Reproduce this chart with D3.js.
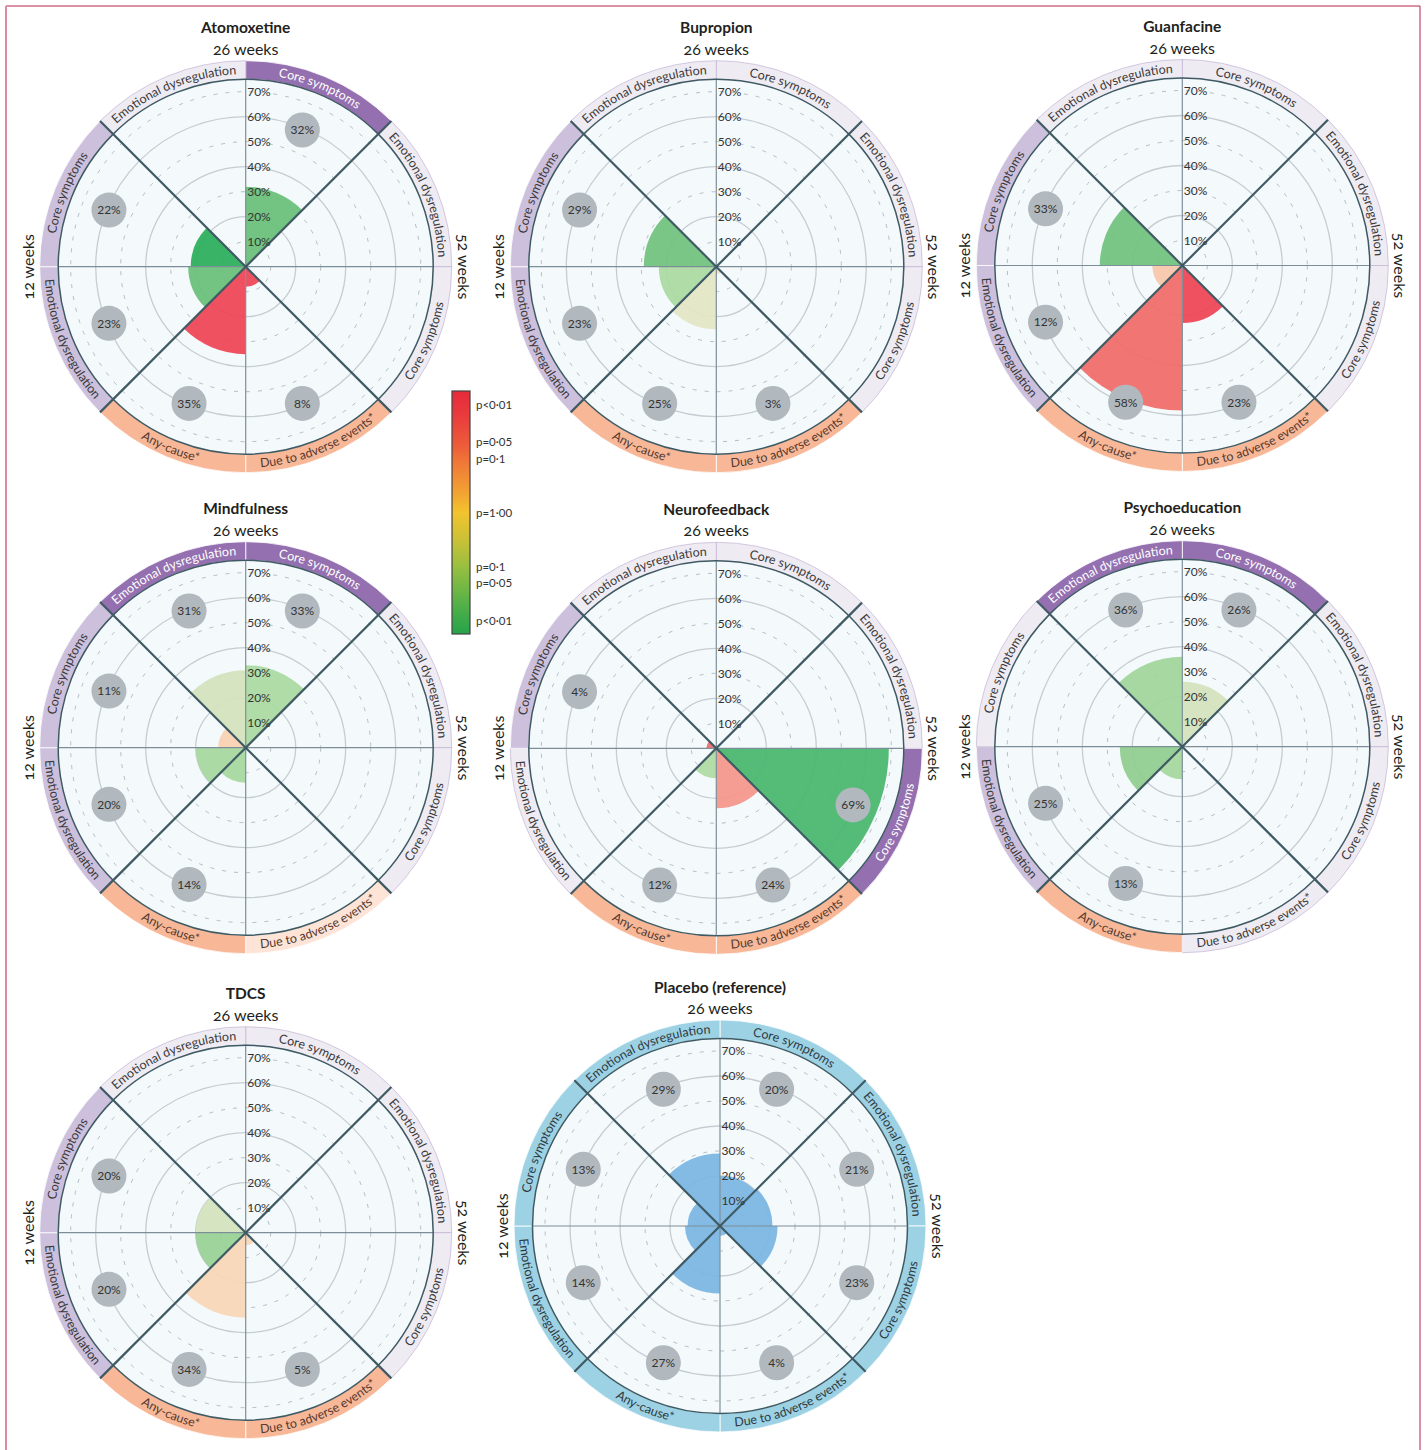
<!DOCTYPE html>
<html>
<head>
<meta charset="utf-8">
<script src="https://cdn.jsdelivr.net/npm/d3@7"></script>
<style>
  body { margin: 0; background: #fff; }
  svg { display: block; font-family: Lato, "Open Sans", sans-serif; }
</style>
</head>
<body>
<svg id="chart" width="1426" height="1450"></svg>
<script>
// Tratamentos (um gráfico radial por tratamento)
const treatments = ["Atomoxetine", "Bupropion", "Guanfacine", "Mindfulness",
                    "Neurofeedback", "Psychoeducation", "TDCS", "Placebo (reference)"];

// Setores no sentido horário a partir das 12h
const outcomeLabels = ["Core symptoms", "Emotional dysregulation", "Core symptoms",
                       "Due to adverse events*", "Any-cause*", "Emotional dysregulation",
                       "Core symptoms", "Emotional dysregulation"];

// Rótulos de tempo: topo, direita, esquerda
const timeLabels = ["26 weeks", "52 weeks", "12 weeks"];

// Marcas dos anéis (%)
const ringTicks = [10, 20, 30, 40, 50, 60, 70];

// Valor de cada setor (%), null = sem estimativa
const values = [
    [32, null, null, 8, 35, 23, 22, null],
    [null, null, null, 3, 25, 23, 29, null],
    [null, null, null, 23, 58, 12, 33, null],
    [33, null, null, null, 14, 20, 11, 31],
    [null, null, 69, 24, 12, null, 4, null],
    [26, null, null, null, 13, 25, null, 36],
    [null, null, null, 5, 34, 20, 20, null],
    [20, 21, 23, 4, 27, 14, 13, 29]
];

// Direção do efeito: -1 favorece o tratamento (verde), 1 favorece o placebo (vermelho)
const directions = [
    [-1, 0, 0, 1, 1, -1, -1, 0],
    [0, 0, 0, 1, -1, -1, -1, 0],
    [0, 0, 0, 1, 1, 1, -1, 0],
    [-1, 0, 0, 0, -1, -1, 1, -1],
    [0, 0, -1, 1, -1, 0, 1, 0],
    [-1, 0, 0, 0, -1, -1, 0, -1],
    [0, 0, 0, 1, 1, -1, -1, 0],
    [0, 0, 0, 0, 0, 0, 0, 0]
];

// Valores de p estimados pela cor
const pValues = [
    [0.015, null, null, 0.004, 0.004, 0.015, 0.004, null],
    [null, null, null, 0.6, 0.6, 0.1, 0.018, null],
    [null, null, null, 0.004, 0.016, 0.21, 0.018, null],
    [0.097, null, null, null, 0.088, 0.088, 0.27, 0.27],
    [null, null, 0.009, 0.075, 0.11, null, 0.016, null],
    [0.27, null, null, null, 0.088, 0.045, null, 0.075],
    [null, null, null, 0.35, 0.35, 0.058, 0.27, null],
    [null, null, null, null, null, null, null, null]
];

// Certeza da evidência (cor da faixa externa)
const bandGrades = [
    ["H", "L", "L", "A", "A", "M", "M", "L"],
    ["L", "L", "L", "A", "A", "M", "M", "L"],
    ["L", "L", "L", "A", "A", "M", "M", "L"],
    ["H", "L", "L", "a", "A", "M", "M", "H"],
    ["L", "L", "H", "A", "A", "L", "M", "L"],
    ["H", "L", "L", "L", "A", "M", "L", "H"],
    ["L", "L", "L", "A", "A", "M", "M", "L"],
    ["R", "R", "R", "R", "R", "R", "R", "R"]
];

// Legenda da barra de cores
const pTicks = [
    { label: "p<0·01", p: 0.01, dir: 1 },
    { label: "p=0·05", p: 0.05, dir: 1 },
    { label: "p=0·1", p: 0.1, dir: 1 },
    { label: "p=1·00", p: 1, dir: 0 },
    { label: "p=0·1", p: 0.1, dir: -1 },
    { label: "p=0·05", p: 0.05, dir: -1 },
    { label: "p<0·01", p: 0.01, dir: -1 }
];

// Layout
const centres = [
    [245.7, 266.7], [716.3, 266.7], [1182.3, 265.5],
    [245.7, 747.7], [716.3, 748.3], [1182.3, 746.7],
    [245.7, 1232.7], [720, 1226]
];
const R_IN = 187.5, R_OUT = 206, BUBBLE_AT = 59.2, ZMAX = 2.25;

const svg = d3.select("#chart");
const defs = svg.append("defs");

const r = d3.scaleLinear().domain([0, 75]).range([0, R_IN]);
const angle = d3.scaleLinear().domain([0, 8]).range([0, 2 * Math.PI]);

const zOf = (p, dir) => dir * Math.min(-Math.log10(p), ZMAX) / ZMAX;

const wedgeColour = d3.scaleLinear()
    .domain([-1, -0.9, -0.8, -0.6, -0.45, -0.25, -0.1, 0, 0.25, 0.5, 0.8, 1])
    .range(["#2aae5a", "#4bb870", "#6cc07a", "#8fcd8f", "#a9d9a0", "#d4e2bc",
            "#e3e6c4", "#efe9c8", "#f9d2b2", "#f4968a", "#f06c68", "#ee4455"]);

const barColour = d3.scaleLinear()
    .domain([1, 0.8, 0.55, 0.4, 0.15, 0, -0.2, -0.45, -0.65, -0.85, -1])
    .range(["#e62a3b", "#e93b3c", "#ed5c3a", "#f07a37", "#f2a532", "#f2c42d",
            "#cfc136", "#98bf40", "#6bb646", "#40ab49", "#27a34a"]);

const bandFill = d3.scaleOrdinal()
    .domain(["H", "M", "L", "A", "a", "R"])
    .range(["#9470b0", "#cdc0dd", "#efebf3", "#f8b898", "#fde4d6", "#9dd2e5"]);
const bandText = d3.scaleOrdinal()
    .domain(["H", "M", "L", "A", "a", "R"])
    .range(["#ffffff", "#3a3a3a", "#3a3a3a", "#553a30", "#553a30", "#2f3a42"]);

const pt = (a, rad) => [rad * Math.sin(a), -rad * Math.cos(a)];

// Moldura
svg.append("line").attr("x1", 6).attr("x2", 1420).attr("y1", 6).attr("y2", 6)
    .attr("stroke", "#b8234c").attr("stroke-width", 1);
svg.append("line").attr("x1", 1420).attr("x2", 1420).attr("y1", 6).attr("y2", 1450)
    .attr("stroke", "#b8234c").attr("stroke-width", 1);
svg.append("line").attr("x1", 6).attr("x2", 6).attr("y1", 6).attr("y2", 1450)
    .attr("stroke", "#e08aa1").attr("stroke-width", 2);

function drawChart(ci) {
    const [cx, cy] = centres[ci];
    const isRef = bandGrades[ci][0] === "R";
    const g = svg.append("g").attr("transform", `translate(${cx},${cy})`);

    const sectors = outcomeLabels.map((label, si) => ({
        si, label,
        a0: angle(si), a1: angle(si + 1),
        value: values[ci][si],
        p: pValues[ci][si],
        dir: directions[ci][si],
        grade: bandGrades[ci][si]
    }));

    // Faixa externa
    const band = d3.arc().innerRadius(R_IN).outerRadius(R_OUT);
    g.selectAll("path.band").data(sectors).join("path")
        .attr("class", "band")
        .attr("d", d => band({ startAngle: d.a0, endAngle: d.a1 }))
        .attr("fill", d => bandFill(d.grade))
        .attr("stroke", d => d.grade === "L" ? "#bba9cf" : "#ffffff")
        .attr("stroke-width", d => d.grade === "L" ? 0.6 : 0.8);

    // Disco interno
    g.append("circle").attr("r", R_IN).attr("fill", "#f4f9fc");

    // Anéis
    g.selectAll("circle.ring").data(ringTicks).join("circle")
        .attr("class", "ring")
        .attr("r", d => r(d))
        .attr("fill", "none")
        .attr("stroke", d => d % 20 === 0 ? "#c6cdd2" : "#b5bec4")
        .attr("stroke-width", d => d % 20 === 0 ? 1.3 : 1)
        .attr("stroke-dasharray", d => d % 20 === 0 ? null : "4,8");

    // Setores de valor
    const wedge = d3.arc().innerRadius(0);
    g.selectAll("path.wedge").data(sectors.filter(d => d.value != null)).join("path")
        .attr("class", "wedge")
        .attr("d", d => wedge({ startAngle: d.a0, endAngle: d.a1, outerRadius: r(d.value) }))
        .attr("fill", d => isRef ? "#7ab6e3" : wedgeColour(zOf(d.p, d.dir)))
        .attr("fill-opacity", 0.93);

    // Eixos vertical e horizontal
    [0, 2, 4, 6].forEach(k => {
        const [x, y] = pt(angle(k), R_IN);
        g.append("line").attr("x1", 0).attr("y1", 0).attr("x2", x).attr("y2", y)
            .attr("stroke", "#7c8f98").attr("stroke-width", 1.2);
    });

    // Contorno do disco
    g.append("circle").attr("r", R_IN).attr("fill", "none")
        .attr("stroke", "#3f5a63").attr("stroke-width", 1.5);

    // Diagonais
    [1, 3, 5, 7].forEach(k => {
        const [x, y] = pt(angle(k), R_OUT);
        g.append("line").attr("x1", 0).attr("y1", 0).attr("x2", x).attr("y2", y)
            .attr("stroke", "#3f5a63").attr("stroke-width", 2.2);
    });

    // Rótulos dos anéis
    g.selectAll("text.tick").data(ringTicks).join("text")
        .attr("class", "tick")
        .attr("x", 1.5)
        .attr("y", d => -r(d))
        .attr("dy", "0.35em")
        .attr("font-size", 12)
        .attr("fill", "#333")
        .text(d => `${d}%`);

    // Bolhas com o valor
    const bub = g.selectAll("g.bubble").data(sectors.filter(d => d.value != null)).join("g")
        .attr("class", "bubble")
        .attr("transform", d => {
            const [x, y] = pt((d.a0 + d.a1) / 2, r(BUBBLE_AT));
            return `translate(${x},${y})`;
        });
    bub.append("circle").attr("r", 17.5).attr("fill", "#b1b8be");
    bub.append("text")
        .attr("text-anchor", "middle").attr("dy", "0.36em")
        .attr("font-size", 12).attr("fill", "#333")
        .text(d => `${d.value}%`);

    // Rótulos curvos na faixa
    sectors.forEach(d => {
        const mid = (d.a0 + d.a1) / 2;
        const clockwise = Math.cos(mid) > 0;
        const rad = clockwise ? 192.6 : 201;
        const s = pt(clockwise ? d.a0 : d.a1, rad);
        const e = pt(clockwise ? d.a1 : d.a0, rad);
        const id = `arc-${ci}-${d.si}`;
        defs.append("path").attr("id", id)
            .attr("d", `M${s[0] + cx},${s[1] + cy} A${rad},${rad} 0 0 ${clockwise ? 1 : 0} ${e[0] + cx},${e[1] + cy}`);
        svg.append("text")
            .attr("font-size", 12.5)
            .attr("fill", bandText(d.grade))
            .append("textPath")
            .attr("href", `#${id}`)
            .attr("startOffset", "50%")
            .attr("text-anchor", "middle")
            .text(d.label);
    });

    // Título e tempos
    g.append("text").attr("y", -233.5).attr("text-anchor", "middle")
        .attr("font-size", 15.5).attr("font-weight", 700).attr("fill", "#231f20")
        .text(treatments[ci]);
    g.append("text").attr("y", -212).attr("text-anchor", "middle")
        .attr("font-size", 16).attr("fill", "#231f20")
        .style("font-variant-numeric", "oldstyle-nums")
        .text(timeLabels[0]);
    g.append("text").attr("transform", "translate(212,0) rotate(90)").attr("text-anchor", "middle")
        .attr("font-size", 16).attr("fill", "#231f20")
        .style("font-variant-numeric", "oldstyle-nums")
        .text(timeLabels[1]);
    g.append("text").attr("transform", "translate(-212,0) rotate(-90)").attr("text-anchor", "middle")
        .attr("font-size", 16).attr("fill", "#231f20")
        .style("font-variant-numeric", "oldstyle-nums")
        .text(timeLabels[2]);
}

treatments.forEach((t, i) => drawChart(i));

// Barra de cores
const barTop = 391, barBottom = 634, barX = 452, barW = 18;
const barY = d3.scaleLinear().domain([1, -1]).range([barTop, barBottom]);
const grad = defs.append("linearGradient").attr("id", "pgrad")
    .attr("x1", 0).attr("x2", 0).attr("y1", 0).attr("y2", 1);
barColour.domain().forEach(z => {
    grad.append("stop")
        .attr("offset", (barY(z) - barTop) / (barBottom - barTop))
        .attr("stop-color", barColour(z));
});
svg.append("rect").attr("x", barX).attr("y", barTop)
    .attr("width", barW).attr("height", barBottom - barTop)
    .attr("fill", "url(#pgrad)").attr("stroke", "#444").attr("stroke-width", 1.2);
svg.selectAll("text.ptick").data(pTicks).join("text")
    .attr("class", "ptick")
    .attr("x", barX + barW + 6)
    .attr("y", d => barY(zOf(d.p, d.dir)))
    .attr("dy", "0.35em")
    .attr("font-size", 11.5)
    .attr("fill", "#333")
    .text(d => d.label);
</script>
</body>
</html>
